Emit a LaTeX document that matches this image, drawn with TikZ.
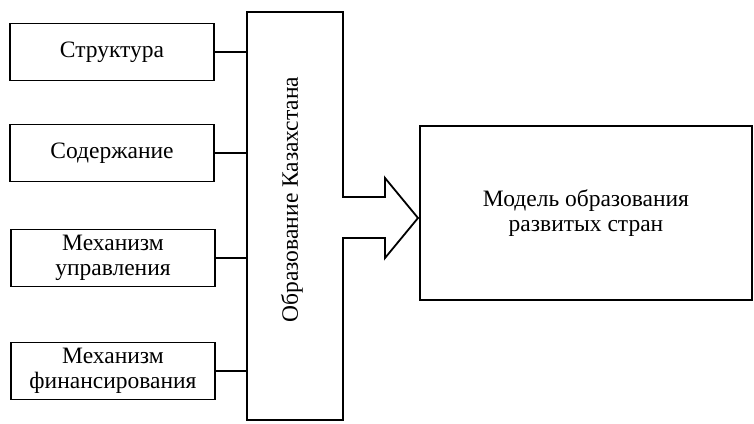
\documentclass[tikz,border=0pt]{standalone}
\usepackage{fontspec}
\setmainfont{Liberation Serif}
\begin{document}
\begin{tikzpicture}[x=1pt,y=-1pt,
  txt/.style={font=\fontsize{23.5}{24.5}\selectfont},
  sidebox/.style={txt,draw=black,line width=1.5pt,minimum width=204pt,minimum height=57pt,
    inner sep=0pt,align=center},
  link/.style={draw=black,line width=2pt},
  outline/.style={draw=black,line width=1.8pt,line join=miter}]
\useasboundingbox (0,0) rectangle (754,423);
% left boxes
\node[sidebox] (s1) at (112,52) {Структура};
\node[sidebox] (s2) at (112,153) {Содержание};
\node[sidebox] (s3) at (113,258) {Механизм\\управления};
\node[sidebox] (s4) at (113,371) {Механизм\\финансирования};
% central block with arrow
\coordinate (ctl) at (247,12);
\coordinate (ctr) at (343,12);
\coordinate (cbl) at (247,420);
\coordinate (cbr) at (343,420);
\coordinate (a1) at (343,197);
\coordinate (a2) at (385,197);
\coordinate (a3) at (385,178);
\coordinate (tip) at (418,218);
\coordinate (a5) at (385,258);
\coordinate (a6) at (385,238);
\coordinate (a7) at (343,238);
\draw[outline] (ctl) -- (ctr) -- (a1) -- (a2) -- (a3) -- (tip) -- (a5) -- (a6) -- (a7) -- (cbr) -- (cbl) -- cycle;
\node[txt,rotate=90,inner sep=0pt] (c) at (292,199.5) {Образование Казахстана};
% connectors
\foreach \s in {s1,s2,s3,s4}{
  \draw[link] (\s.east) -- (\s.east -| ctl);
}
% right box
\node[txt,draw=black,line width=2.2pt,minimum width=332pt,minimum height=174pt,inner sep=0pt,
  align=center] (m) at (586,213) {Модель образования\\развитых стран};
\end{tikzpicture}
\end{document}
